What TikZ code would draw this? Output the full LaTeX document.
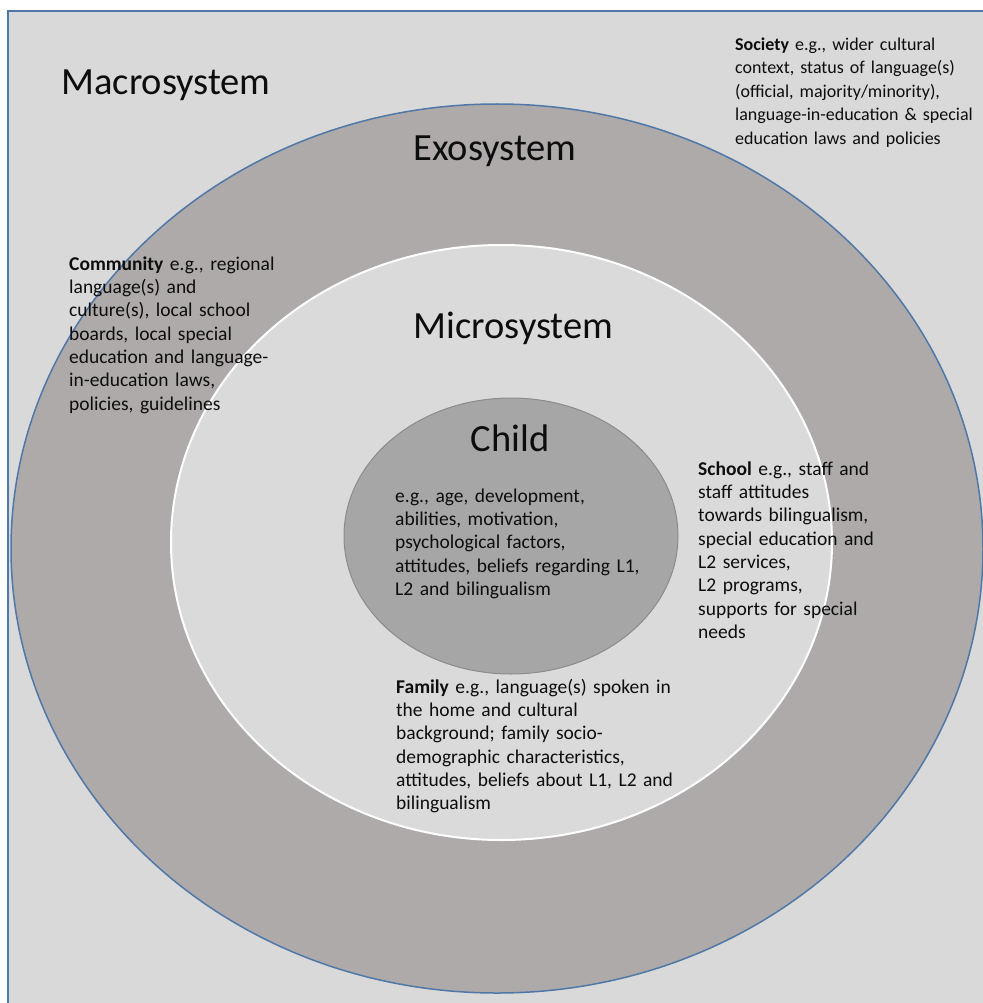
\documentclass[tikz,border=0pt]{standalone}
\usepackage{fontspec}
\setmainfont{Carlito}
\definecolor{bgGray}{HTML}{D9D9D9}
\definecolor{exoGray}{HTML}{AEAAAA}
\definecolor{microGray}{HTML}{DADADA}
\definecolor{childGray}{HTML}{A6A6A6}
\definecolor{childEdge}{HTML}{8C8C8C}
\definecolor{edgeBlue}{HTML}{4F78A8}
\definecolor{txt}{HTML}{0D0D0D}
\tikzset{
  title/.style={anchor=base, inner sep=0pt, text=txt, font={\fontsize{38.5}{46}\selectfont}},
  bodytext/.style={anchor=north west, inner sep=0pt, align=left, text=txt,
    font={\fontsize{19.5}{23.3}\selectfont}},
  smallbody/.style={bodytext, font={\fontsize{18}{23.5}\selectfont}},
}
\begin{document}
\begin{tikzpicture}[x=1pt,y=-1pt]
\useasboundingbox (0,0) rectangle (982,1003);
% macrosystem background
\fill[white] (0,0) rectangle (982,1003);
\fill[bgGray] (8,11) rectangle (990,1010);
\draw[edgeBlue, line width=1.5pt] (8,1010) -- (8,11) -- (990,11);
% exosystem
\fill[exoGray, draw=edgeBlue, line width=1.5pt] (497,548.5) ellipse [x radius=486, y radius=444.5];
% microsystem
\fill[microGray, draw=white, line width=2pt] (501.5,542.5) ellipse [x radius=330.5, y radius=297.5];
% child
\fill[childGray, draw=childEdge, line width=1pt] (511,536) ellipse [x radius=167, y radius=138];

% titles
\node[title] (macro) at (166,95) {Macrosystem};
\node[title] (exo) at (495,161) {Exosystem};
\node[title] (micro) at (513.5,338) {Microsystem};
\node[title] (child) at (510,451) {Child};

% body texts
\node[smallbody, text width=245pt] (society) at (735,50-16.45) {\strut\textbf{Society} e.g., wider cultural\\
context, status of language(s)\\
(official, majority/minority),\\
language-in-education \& special\\
education laws and policies};

\node[bodytext, text width=230pt] (community) at (69,270-16.3) {\strut\textbf{Community} e.g., regional\\
language(s) and\\
culture(s), local school\\
boards, local special\\
education and language-\\
in-education laws,\\
policies, guidelines};

\node[bodytext, text width=280pt] (childtext) at (395,502-16.3) {\strut e.g., age, development,\\
abilities, motivation,\\
psychological factors,\\
attitudes, beliefs regarding L1,\\
L2 and bilingualism};

\node[bodytext, text width=200pt] (school) at (698,475-16.3) {\strut\textbf{School} e.g., staff and\\
staff attitudes\\
towards bilingualism,\\
special education and\\
L2 services,\\
L2 programs,\\
supports for special\\
needs};

\node[bodytext, text width=300pt] (family) at (396,693-16.3) {\strut\textbf{Family} e.g., language(s) spoken in\\
the home and cultural\\
background; family socio-\\
demographic characteristics,\\
attitudes, beliefs about L1, L2 and\\
bilingualism};
\end{tikzpicture}
\end{document}
